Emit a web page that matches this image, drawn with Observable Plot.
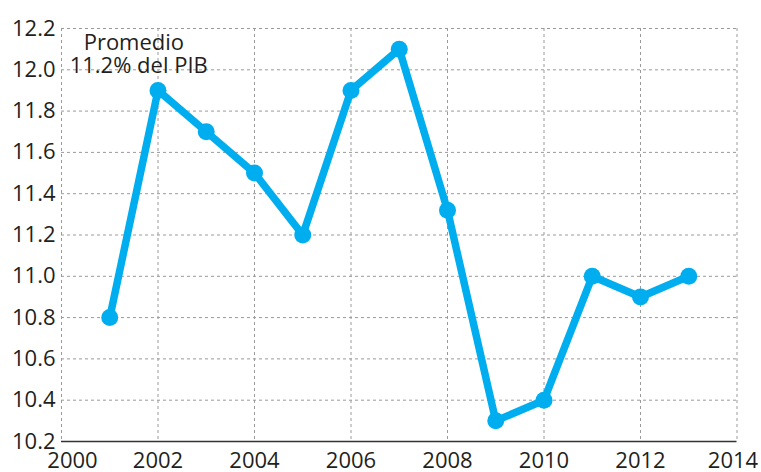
<!DOCTYPE html>
<html>
<head>
<meta charset="utf-8">
<script src="https://cdn.jsdelivr.net/npm/d3@7"></script>
<script src="https://cdn.jsdelivr.net/npm/@observablehq/plot@0.6"></script>
<style>
  html, body { margin: 0; padding: 0; background: #fff; }
  svg { display: block; }
</style>
</head>
<body>
<div id="chart"></div>
<script>
const years = [2001, 2002, 2003, 2004, 2005, 2006, 2007, 2008, 2009, 2010, 2011, 2012, 2013];
const values = [10.8, 11.9, 11.7, 11.5, 11.2, 11.9, 12.1, 11.32, 10.3, 10.4, 11.0, 10.9, 11.0];
const xTicks = [2000, 2002, 2004, 2006, 2008, 2010, 2012, 2014];
const yTicks = [10.2, 10.4, 10.6, 10.8, 11.0, 11.2, 11.4, 11.6, 11.8, 12.0, 12.2];
const annotationLines = ["Promedio", "11.2% del PIB"];
const annotationX = [2001.5, 2001.6];
const annotationY = [12.095, 11.983];

const data = years.map((y, i) => ({year: y, value: values[i]}));
const color = "#00aeef";
const font = "'Open Sans', sans-serif";

const chart = Plot.plot({
  width: 761,
  height: 472,
  marginLeft: 61,
  marginRight: 24.5,
  marginTop: 28,
  marginBottom: 31,
  style: {fontFamily: font, fontSize: "22px", color: "#231f20", background: "#fff"},
  x: {domain: [2000, 2014], axis: null},
  y: {domain: [10.2, 12.2], axis: null},
  marks: [
    Plot.gridY(yTicks.slice(1), {stroke: "#9a9a9a", strokeOpacity: 1, strokeDasharray: "3,3", strokeWidth: 1}),
    Plot.gridX(xTicks, {stroke: "#9a9a9a", strokeOpacity: 1, strokeDasharray: "3,3", strokeWidth: 1}),
    Plot.ruleY([10.2], {stroke: "#333", strokeWidth: 1.6}),
    Plot.text(yTicks, {x: 2000, y: d => d, text: d => d.toFixed(1), textAnchor: "end", dx: -6, fontSize: 22, fill: "#231f20"}),
    Plot.text(xTicks.slice(0, 1), {x: d => d, y: 10.2, text: d => String(d), lineAnchor: "top", dy: 11, dx: 11, fontSize: 22, fill: "#231f20"}),
    Plot.text(xTicks.slice(1, -1), {x: d => d, y: 10.2, text: d => String(d), lineAnchor: "top", dy: 11, fontSize: 22, fill: "#231f20"}),
    Plot.text(xTicks.slice(-1), {x: d => d, y: 10.2, text: d => String(d), lineAnchor: "top", dy: 11, dx: -4, fontSize: 22, fill: "#231f20"}),
    Plot.text(annotationLines, {x: annotationX, y: annotationY, text: d => d, lineAnchor: "bottom", textAnchor: "middle", fontSize: 22, fill: "#231f20"}),
    Plot.line(data, {x: "year", y: "value", stroke: color, strokeWidth: 7.5, strokeLinejoin: "round"}),
    Plot.dot(data, {x: "year", y: "value", r: 8.5, fill: color, stroke: "none"})
  ]
});
document.getElementById("chart").appendChild(chart);
</script>
</body>
</html>
